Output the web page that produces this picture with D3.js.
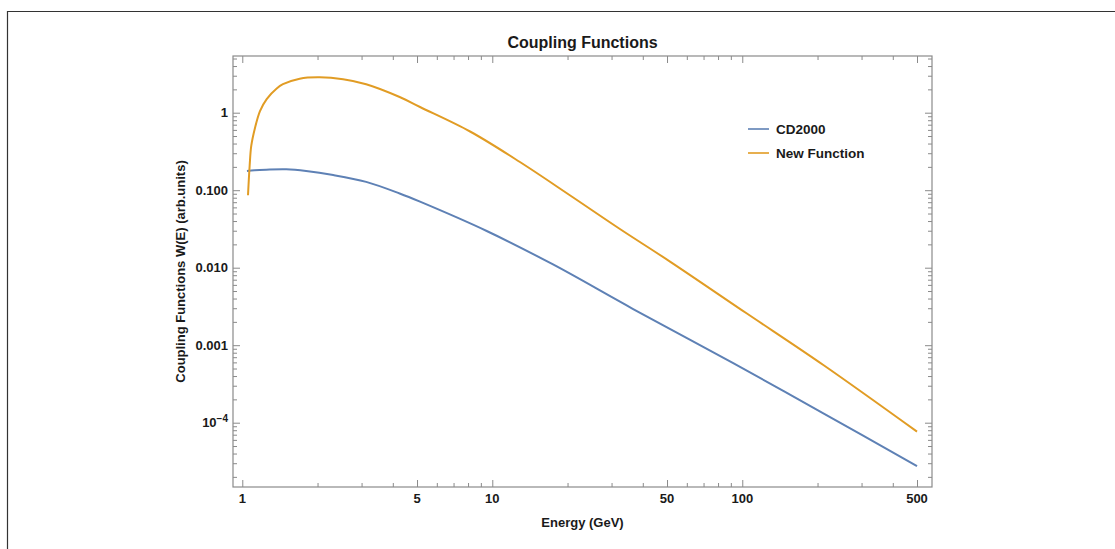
<!DOCTYPE html>
<html>
<head>
<meta charset="utf-8">
<script src="https://cdn.jsdelivr.net/npm/d3@7"></script>
<style>
  html, body { margin: 0; padding: 0; background: #fff; }
  svg { display: block; }
  text { font-family: "Liberation Sans", Arial, sans-serif; font-weight: bold; fill: #1a1a1a; }
</style>
</head>
<body>
<svg id="chart" width="1115" height="549"></svg>
<script>
// ---- data ----
const title = "Coupling Functions";
const xLabel = "Energy (GeV)";
const yLabel = "Coupling Functions W(E) (arb.units)";
const seriesNames = ["CD2000", "New Function"];
const seriesColors = ["#5E81B5", "#E19C24"];

const cdEnergy = [1.044, 1.12, 1.247, 1.5, 1.8, 2.31, 3.13, 4.26, 5.14, 9.5, 17.5, 36.6, 92, 211, 500];
const cdValues = [0.177, 0.181, 0.184, 0.186, 0.177, 0.157, 0.128, 0.0907, 0.0711, 0.02975, 0.0110, 0.00293, 0.000589, 0.000132, 0.0000276];

const newEnergy = [1.054, 1.07, 1.086, 1.124, 1.177, 1.252, 1.373, 1.454, 1.697, 2.04, 2.53, 3.13, 4.26, 5.14, 8.15, 12.9, 20.5, 32.4, 51.4, 104, 211, 500];
const newValues = [0.086, 0.205, 0.372, 0.635, 1.05, 1.5, 2.05, 2.33, 2.75, 2.86, 2.7, 2.33, 1.594, 1.184, 0.572, 0.231, 0.0855, 0.0316, 0.012, 0.00258, 0.000555, 0.0000766];

const xDomain = [0.918, 574];
const yDomain = [1.48e-5, 5.39];
const xMajorTicks = [1, 5, 10, 50, 100, 500];
const xTickLabels = ["1", "5", "10", "50", "100", "500"];
const yMajorTicks = [1e-4, 1e-3, 1e-2, 1e-1, 1];
const yTickLabels = ["10|-4", "0.001", "0.010", "0.100", "1"];

// ---- layout ----
const frame = { left: 233, right: 932, top: 56, bottom: 487 };
const svg = d3.select("#chart");

const x = d3.scaleLog().domain(xDomain).range([frame.left, frame.right]);
const y = d3.scaleLog().domain(yDomain).range([frame.bottom, frame.top]);

// outer image border (top & left)
svg.append("line").attr("x1", 7).attr("x2", 1115).attr("y1", 11.5).attr("y2", 11.5)
  .attr("stroke", "#333").attr("stroke-width", 1.2);
svg.append("line").attr("x1", 7.5).attr("x2", 7.5).attr("y1", 11).attr("y2", 549)
  .attr("stroke", "#333").attr("stroke-width", 1.2);

// minor ticks
function minorLogTicks(domain) {
  const out = [];
  const lo = Math.floor(Math.log10(domain[0])), hi = Math.ceil(Math.log10(domain[1]));
  for (let e = lo; e <= hi; e++) {
    for (let m = 2; m <= 9; m++) {
      const v = m * Math.pow(10, e);
      if (v >= domain[0] && v <= domain[1]) out.push(v);
    }
  }
  return out;
}
const xMinor = minorLogTicks(xDomain).filter(v => !xMajorTicks.some(t => Math.abs(t - v) / t < 1e-9));
const yMinor = minorLogTicks(yDomain);

const tickColor = "#8a8a8a";
const g = svg.append("g");

const majorLen = 7, minorLen = 4;
function addAxis(axisFn, scale, ticks, len, transform) {
  const a = axisFn(scale).tickValues(ticks).tickSizeInner(len).tickSizeOuter(0).tickFormat(() => "");
  const sel = g.append("g").attr("transform", transform).call(a);
  sel.select(".domain").remove();
  sel.selectAll(".tick line").attr("stroke", tickColor).attr("stroke-width", 1);
  return sel;
}
addAxis(d3.axisTop, x, xMajorTicks, majorLen, `translate(0,${frame.bottom})`);
addAxis(d3.axisTop, x, xMinor, minorLen, `translate(0,${frame.bottom})`);
addAxis(d3.axisBottom, x, xMajorTicks, majorLen, `translate(0,${frame.top})`);
addAxis(d3.axisBottom, x, xMinor, minorLen, `translate(0,${frame.top})`);
addAxis(d3.axisRight, y, yMajorTicks, majorLen, `translate(${frame.left},0)`);
addAxis(d3.axisRight, y, yMinor, minorLen, `translate(${frame.left},0)`);
addAxis(d3.axisLeft, y, yMajorTicks, majorLen, `translate(${frame.right},0)`);
addAxis(d3.axisLeft, y, yMinor, minorLen, `translate(${frame.right},0)`);

// frame
svg.append("rect").attr("x", frame.left).attr("y", frame.top)
  .attr("width", frame.right - frame.left).attr("height", frame.bottom - frame.top)
  .attr("fill", "none").attr("stroke", tickColor).attr("stroke-width", 1.2);

// x tick labels
svg.append("g").selectAll("text").data(xMajorTicks).join("text")
  .attr("x", d => x(d)).attr("y", 503).attr("text-anchor", "middle")
  .attr("font-size", 13).text((d, i) => xTickLabels[i]);

// y tick labels
const yl = svg.append("g").selectAll("text").data(yMajorTicks).join("text")
  .attr("x", 228).attr("y", d => y(d) + 4.6).attr("text-anchor", "end")
  .attr("font-size", 13);
yl.each(function(d, i) {
  const lab = yTickLabels[i];
  const t = d3.select(this);
  if (lab.includes("|")) {
    const [base, exp] = lab.split("|");
    t.append("tspan").text(base);
    t.append("tspan").attr("dy", -5).attr("font-size", 10).text(exp.replace("-", "\u2212"));
  } else {
    t.text(lab);
  }
});

// title & axis labels
svg.append("text").attr("x", (frame.left + frame.right) / 2).attr("y", 48)
  .attr("text-anchor", "middle").attr("font-size", 16).text(title);
svg.append("text").attr("x", (frame.left + frame.right) / 2).attr("y", 527)
  .attr("text-anchor", "middle").attr("font-size", 13).text(xLabel);
svg.append("text").attr("transform", `translate(185,${(frame.top + frame.bottom) / 2}) rotate(-90)`)
  .attr("text-anchor", "middle").attr("font-size", 13).text(yLabel);

// curves
const line = d3.line().x(d => x(d[0])).y(d => y(d[1])).curve(d3.curveCatmullRom.alpha(0.5));
const seriesData = [
  cdEnergy.map((e, i) => [e, cdValues[i]]),
  newEnergy.map((e, i) => [e, newValues[i]])
];
const plot = svg.append("g");
seriesData.forEach((s, i) => {
  plot.append("path").datum(s).attr("d", line)
    .attr("fill", "none").attr("stroke", seriesColors[i]).attr("stroke-width", 2)
    .attr("stroke-linejoin", "round");
});

// legend
const legend = svg.append("g");
const legY = [129, 153];
seriesNames.forEach((name, i) => {
  legend.append("line").attr("x1", 748).attr("x2", 769).attr("y1", legY[i]).attr("y2", legY[i])
    .attr("stroke", seriesColors[i]).attr("stroke-width", 1.6);
  legend.append("text").attr("x", 776).attr("y", legY[i] + 4.8).attr("font-size", 13.5).text(name);
});
</script>
</body>
</html>
